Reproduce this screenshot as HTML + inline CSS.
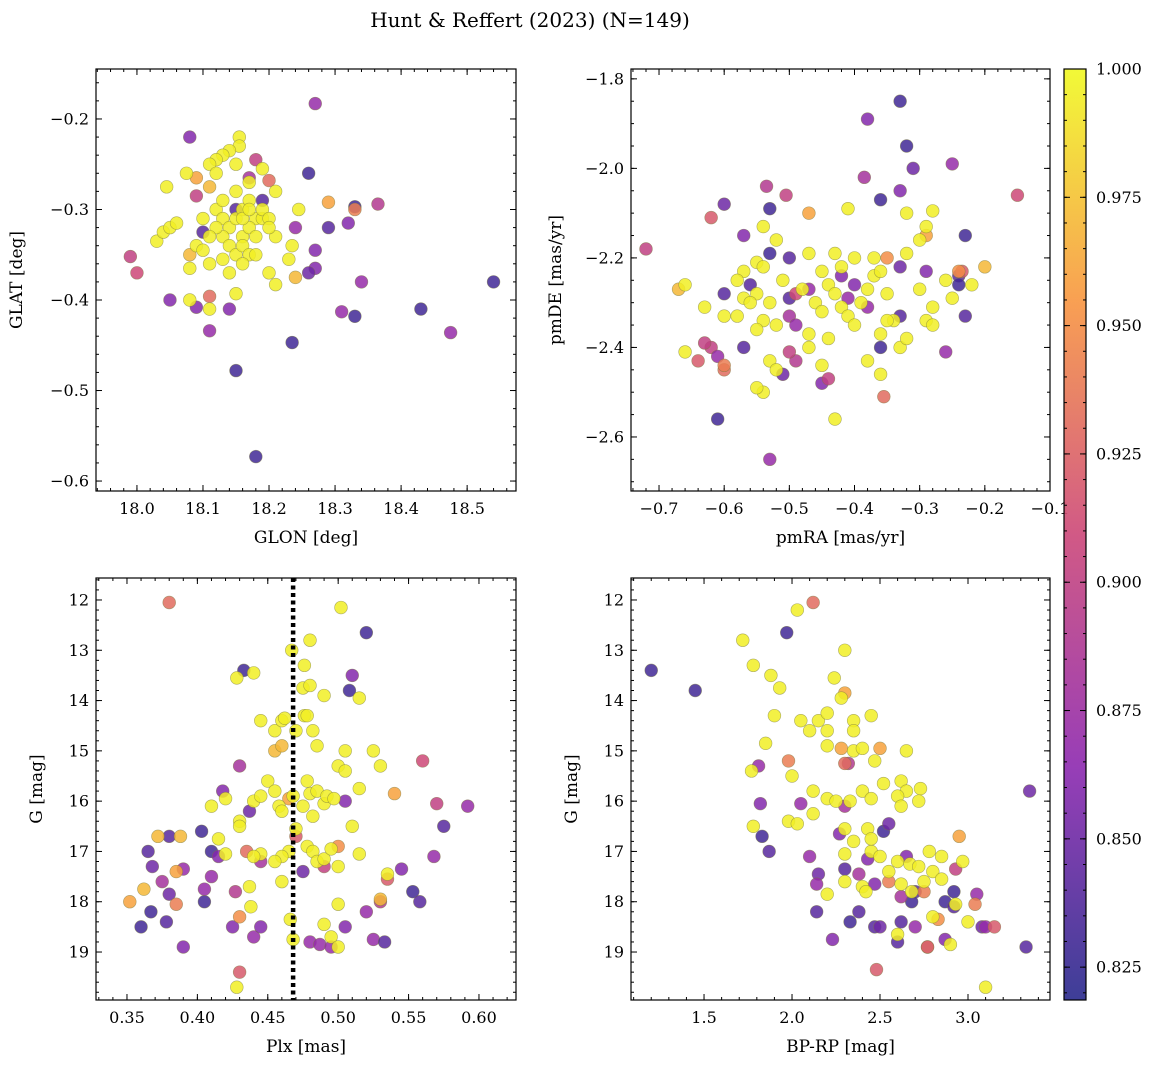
<!DOCTYPE html>
<html><head><meta charset="utf-8">
<style>
body{margin:0;background:#fff;}
svg{display:block;font-family:"DejaVu Serif","Liberation Serif",serif;}
</style></head>
<body>
<svg id="fig" width="1161" height="1068" viewBox="0 0 1161 1068" xmlns="http://www.w3.org/2000/svg">
<text x="530" y="27" text-anchor="middle" font-size="20">Hunt &amp; Reffert (2023) (N=149)</text>
</svg>
<script>
// ---- data ----
const p1Glon=[18.27,18.08,18.26,18.19,18.29,18.32,18.33,18.27,18.27,18.26,18.34,18.31,18.33,18.43,18.475,18.54,18.235,18.15,18.18,18.11,18.09,18.05,17.99,18.0,18.14,18.365,18.24,18.17,18.18,18.2,18.29,18.33,18.11,18.09,18.11,18.08,18.1,18.15,18.24,18.09,
18.03,18.04,18.05,18.06,18.045,18.075,18.08,18.155,18.155,18.14,18.13,18.12,18.11,18.21,18.245,18.235,18.23,18.2,18.21,18.15,18.11,18.08,18.09,18.18,18.16,18.12,18.13,18.14,18.15,18.16,18.17,18.18,18.19,18.13,18.14,18.15,18.16,18.17,18.12,18.13,18.15,18.17,18.19,18.2,18.1,18.11,18.14,18.16,18.18,18.1,18.12,18.15,18.17,18.19,18.11,18.13,18.16,18.21,18.2,18.17];
const p1Glat=[-0.183,-0.22,-0.26,-0.29,-0.32,-0.315,-0.297,-0.345,-0.365,-0.37,-0.38,-0.413,-0.418,-0.41,-0.436,-0.38,-0.447,-0.478,-0.573,-0.434,-0.408,-0.4,-0.352,-0.37,-0.41,-0.294,-0.32,-0.265,-0.245,-0.268,-0.292,-0.3,-0.396,-0.265,-0.275,-0.35,-0.325,-0.3,-0.375,-0.285,
-0.335,-0.325,-0.32,-0.315,-0.275,-0.26,-0.4,-0.22,-0.23,-0.235,-0.24,-0.245,-0.25,-0.28,-0.3,-0.34,-0.355,-0.37,-0.383,-0.393,-0.41,-0.365,-0.34,-0.31,-0.33,-0.3,-0.31,-0.32,-0.31,-0.3,-0.32,-0.33,-0.31,-0.33,-0.34,-0.35,-0.34,-0.35,-0.32,-0.29,-0.28,-0.29,-0.3,-0.31,-0.345,-0.36,-0.37,-0.36,-0.35,-0.31,-0.26,-0.25,-0.27,-0.255,-0.33,-0.355,-0.31,-0.33,-0.32,-0.3];
const p1Prob=[.87,.86,.83,.84,.84,.86,.83,.86,.86,.85,.87,.87,.83,.83,.87,.83,.83,.83,.83,.87,.86,.86,.9,.91,.86,.89,.87,.88,.9,.93,.96,.94,.93,.96,.97,.97,.84,.84,.97,.9];
const p2PmRA=[-0.33,-0.32,-0.38,-0.31,-0.33,-0.25,-0.15,-0.385,-0.36,-0.6,-0.53,-0.535,-0.505,-0.62,-0.72,-0.57,-0.53,-0.5,-0.23,-0.33,-0.29,-0.24,-0.235,-0.24,-0.23,-0.26,-0.36,-0.38,-0.33,-0.56,-0.6,-0.5,-0.47,-0.49,-0.42,-0.4,-0.41,-0.45,-0.44,-0.355,-0.53,-0.61,-0.62,-0.63,-0.61,-0.64,-0.57,-0.6,-0.49,-0.51,-0.5,-0.5,-0.49,-0.35,-0.29,-0.2,-0.24,-0.47,-0.67,-0.6,
-0.54,-0.52,-0.41,-0.32,-0.28,-0.29,-0.3,-0.32,-0.37,-0.4,-0.43,-0.47,-0.55,-0.57,-0.54,-0.58,-0.57,-0.55,-0.53,-0.51,-0.48,-0.46,-0.45,-0.44,-0.43,-0.42,-0.41,-0.4,-0.39,-0.38,-0.37,-0.36,-0.35,-0.34,-0.36,-0.38,-0.3,-0.28,-0.29,-0.28,-0.25,-0.26,-0.22,-0.42,-0.47,-0.45,-0.44,-0.52,-0.54,-0.55,-0.53,-0.52,-0.54,-0.56,-0.58,-0.63,-0.66,-0.66,-0.6,-0.43,-0.36,-0.33,-0.32,-0.35,-0.47,-0.45,-0.55];
const p2PmDE=[-1.85,-1.95,-1.89,-2.0,-2.05,-1.99,-2.06,-2.02,-2.07,-2.08,-2.09,-2.04,-2.06,-2.11,-2.18,-2.15,-2.19,-2.2,-2.15,-2.22,-2.23,-2.24,-2.23,-2.26,-2.33,-2.41,-2.4,-2.31,-2.33,-2.26,-2.28,-2.29,-2.27,-2.28,-2.24,-2.26,-2.29,-2.48,-2.47,-2.51,-2.65,-2.56,-2.4,-2.39,-2.42,-2.43,-2.4,-2.45,-2.43,-2.46,-2.41,-2.33,-2.35,-2.2,-2.15,-2.22,-2.23,-2.1,-2.27,-2.44,
-2.13,-2.16,-2.09,-2.1,-2.095,-2.13,-2.16,-2.19,-2.2,-2.2,-2.19,-2.19,-2.21,-2.23,-2.22,-2.25,-2.29,-2.28,-2.3,-2.25,-2.27,-2.3,-2.32,-2.26,-2.28,-2.31,-2.33,-2.35,-2.3,-2.27,-2.24,-2.23,-2.28,-2.34,-2.37,-2.43,-2.27,-2.31,-2.34,-2.35,-2.29,-2.25,-2.26,-2.22,-2.37,-2.44,-2.38,-2.35,-2.34,-2.36,-2.43,-2.45,-2.5,-2.3,-2.33,-2.31,-2.26,-2.41,-2.33,-2.56,-2.46,-2.4,-2.38,-2.34,-2.4,-2.23,-2.49];
const p2Prob=[.83,.83,.86,.85,.86,.87,.91,.88,.83,.85,.83,.89,.9,.92,.9,.86,.83,.84,.83,.85,.86,.84,.92,.83,.84,.87,.83,.87,.84,.84,.84,.84,.87,.91,.86,.86,.87,.86,.9,.93,.87,.83,.9,.9,.87,.92,.84,.93,.89,.85,.9,.88,.87,.95,.96,.97,.95,.96,.97,.94];
const p3Plx=[0.36,0.367,0.365,0.368,0.38,0.378,0.39,0.39,0.38,0.375,0.403,0.41,0.405,0.41,0.415,0.418,0.405,0.433,0.43,0.425,0.427,0.44,0.445,0.445,0.437,0.475,0.48,0.487,0.49,0.495,0.505,0.505,0.51,0.508,0.52,0.52,0.525,0.53,0.533,0.545,0.553,0.558,0.56,0.57,0.575,0.568,0.592,0.38,0.352,0.362,0.372,0.388,0.385,0.385,0.43,0.43,0.435,0.455,0.46,0.465,0.47,0.54,0.535,0.53,0.5,
0.428,0.44,0.502,0.467,0.476,0.48,0.475,0.48,0.49,0.515,0.445,0.455,0.46,0.462,0.47,0.476,0.478,0.482,0.485,0.505,0.5,0.505,0.525,0.53,0.515,0.41,0.42,0.43,0.43,0.44,0.445,0.45,0.455,0.458,0.46,0.468,0.47,0.475,0.478,0.48,0.482,0.485,0.49,0.492,0.497,0.478,0.482,0.485,0.49,0.495,0.5,0.465,0.46,0.455,0.445,0.44,0.437,0.438,0.46,0.466,0.42,0.415,0.5,0.49,0.495,0.5,0.51,0.535,0.515,0.428,0.468];
const p3G=[18.5,18.2,17.0,17.3,16.7,18.4,18.9,17.35,17.85,17.6,16.6,17.0,18.0,17.5,17.1,15.8,17.75,13.4,15.3,18.5,17.8,18.7,18.5,17.2,16.2,17.4,18.8,18.85,17.3,18.9,18.5,16.0,13.5,13.8,12.65,18.2,18.75,18.0,18.8,17.35,17.8,18.0,15.2,16.05,16.5,17.1,16.1,12.05,18.0,17.75,16.7,16.7,17.4,18.05,18.3,19.4,17.0,15.0,14.9,15.95,16.7,15.85,17.55,17.95,16.9,
13.55,13.45,12.15,13.0,13.3,12.8,13.75,13.7,13.9,13.95,14.4,14.6,14.4,14.35,14.6,14.3,14.3,14.6,14.9,15.0,15.3,15.4,15.0,15.3,15.75,16.1,15.95,16.4,16.5,16.0,15.9,15.6,15.8,16.1,16.2,15.9,16.55,16.1,15.6,15.85,16.3,15.8,16.05,15.9,15.95,16.9,17.0,17.2,17.15,16.95,17.3,17.0,17.1,17.2,17.05,17.1,17.7,18.1,17.6,18.35,17.05,16.75,18.05,18.45,18.7,18.9,16.5,17.45,17.05,19.7,18.75];
const p3Prob=[.83,.83,.84,.85,.84,.84,.86,.87,.85,.88,.83,.83,.83,.87,.86,.86,.87,.83,.88,.86,.89,.87,.86,.88,.85,.85,.87,.87,.9,.87,.86,.86,.86,.83,.83,.87,.87,.89,.84,.86,.83,.84,.91,.9,.84,.87,.87,.93,.96,.97,.97,.97,.96,.94,.95,.92,.93,.97,.97,.96,.92,.96,.92,.97,.95];
const p4Color=[1.2,1.45,1.97,3.35,3.33,1.83,1.87,1.81,1.82,2.1,2.15,2.14,2.14,2.23,2.27,2.3,2.33,2.38,2.43,2.47,2.5,2.52,2.6,2.62,2.65,2.7,2.68,2.7,2.77,2.87,2.92,2.92,3.05,3.08,3.1,2.87,2.62,2.3,2.05,2.55,2.38,2.47,2.32,2.12,2.48,2.5,2.28,2.3,1.98,2.3,2.95,2.75,2.77,2.83,2.93,3.04,3.15,2.55,
2.03,1.72,1.78,1.88,1.93,2.24,2.3,2.28,2.05,2.1,2.15,2.2,2.2,2.35,2.35,2.45,1.85,1.9,2.2,2.35,2.4,2.47,2.52,2.65,2.62,2.65,1.77,2.0,2.12,2.2,2.25,2.33,2.4,2.45,2.6,2.62,2.73,2.72,1.78,1.98,2.03,2.12,2.3,2.35,2.43,2.45,2.5,2.55,2.6,2.67,2.72,2.75,2.8,2.85,2.97,2.3,2.3,2.4,2.2,2.42,2.45,2.62,2.78,2.85,2.9,2.93,3.0,2.6,2.68,3.1,2.8];
const p4G=[13.4,13.8,12.65,15.8,18.9,16.7,17.0,15.3,16.05,17.1,17.45,17.65,18.2,18.75,16.65,17.35,18.4,18.2,17.15,18.5,18.5,16.6,18.8,18.4,17.1,17.8,18.0,18.5,18.9,18.0,17.8,18.1,17.85,18.5,18.5,18.75,17.9,16.1,16.05,16.45,17.45,17.65,15.25,12.05,19.35,14.95,14.95,13.85,15.2,15.25,16.7,17.8,18.9,18.35,17.35,18.05,18.5,17.6,
12.2,12.8,13.3,13.5,13.75,13.55,13.0,13.95,14.4,14.6,14.4,14.6,14.25,14.4,14.6,14.3,14.85,14.3,14.9,15.0,14.95,15.2,15.65,15.0,15.6,15.8,15.4,15.5,15.8,15.95,16.0,16.0,15.8,15.95,15.9,16.1,15.75,16.0,16.5,16.4,16.45,16.25,16.55,16.8,16.55,17.0,17.1,17.4,17.2,17.25,17.3,17.6,17.4,17.1,17.2,17.05,17.6,17.7,17.85,17.8,16.75,17.65,17.0,17.55,18.85,18.05,18.4,18.65,17.8,19.7,18.3];
const p4Prob=[.83,.83,.83,.85,.84,.83,.84,.87,.86,.87,.85,.87,.84,.86,.86,.84,.83,.84,.86,.84,.85,.83,.84,.84,.86,.84,.83,.87,.87,.83,.83,.84,.87,.85,.87,.86,.88,.88,.87,.85,.88,.86,.89,.93,.92,.96,.96,.96,.94,.93,.96,.94,.93,.95,.9,.94,.92,.94];
const cbTicks=[0.825,0.850,0.875,0.900,0.925,0.950,0.975,1.000];

// ---- helpers ----
const NS="http://www.w3.org/2000/svg";
const svg=document.getElementById('fig');
function el(tag,attrs,parent){const e=document.createElementNS(NS,tag);for(const k in attrs)e.setAttribute(k,attrs[k]);(parent||svg).appendChild(e);return e;}
const PMIN=0.8186,PMAX=1.0;
const stops=[[40,40,140],[140,40,175],[204,71,120],[248,149,64],[240,249,33]];
function plasma(t){t=Math.max(0,Math.min(1,t));const s=t*4,i=Math.min(3,Math.floor(s)),f=s-i;const a=stops[i],b=stops[i+1];return `rgb(${Math.round(a[0]+(b[0]-a[0])*f)},${Math.round(a[1]+(b[1]-a[1])*f)},${Math.round(a[2]+(b[2]-a[2])*f)})`;}
function fmt(v,d){return v.toFixed(d).replace('-','\u2212');}

function panel(o){
  const g=el('g',{});
  
  
  const sx=v=>o.x0+(v-o.xmin)/(o.xmax-o.xmin)*(o.x1-o.x0);
  const sy=v=>o.inv? o.y0+(v-o.ymin)/(o.ymax-o.ymin)*(o.y1-o.y0) : o.y1-(v-o.ymin)/(o.ymax-o.ymin)*(o.y1-o.y0);
  const clip='c'+o.name;
  const cp=el('clipPath',{id:clip},g);el('rect',{x:o.x0,y:o.y0,width:o.x1-o.x0,height:o.y1-o.y0},cp);
  const pts=el('g',{'clip-path':`url(#${clip})`},g);
  for(let i=0;i<o.xs.length;i++){
    const p=i<o.ps.length?o.ps[i]:0.995;
    const c=el('circle',{cx:sx(o.xs[i]),cy:sy(o.ys[i]),r:6.4,fill:plasma((p-PMIN)/(PMAX-PMIN)),'fill-opacity':0.85,stroke:'#7a7a40','stroke-opacity':0.6,'stroke-width':0.6},pts);
    
    
  }
  if(o.vline!==undefined){
    const l=el('line',{x1:sx(o.vline),x2:sx(o.vline),y1:o.y0,y2:o.y1,stroke:'#000','stroke-width':4.5,'stroke-dasharray':'4,3.5'},g);
    
    
  }
  const fr=el('rect',{x:o.x0,y:o.y0,width:o.x1-o.x0,height:o.y1-o.y0,fill:'none',stroke:'#000','stroke-width':1.2},g);
  
  
  for(let v=Math.ceil(o.xmin/o.xmn-1e-6)*o.xmn;v<=o.xmax+1e-9;v+=o.xmn){const X=sx(v);el('line',{x1:X,x2:X,y1:o.y1,y2:o.y1-3,stroke:'#000'},g);el('line',{x1:X,x2:X,y1:o.y0,y2:o.y0+3,stroke:'#000'},g);}
  for(let v=Math.ceil(o.ymin/o.ymn-1e-6)*o.ymn;v<=o.ymax+1e-9;v+=o.ymn){const Y=sy(v);el('line',{x1:o.x0,x2:o.x0+3,y1:Y,y2:Y,stroke:'#000'},g);el('line',{x1:o.x1,x2:o.x1-3,y1:Y,y2:Y,stroke:'#000'},g);}
  o.xt.forEach(v=>{const X=sx(v);el('line',{x1:X,x2:X,y1:o.y1,y2:o.y1-6,stroke:'#000'},g);el('line',{x1:X,x2:X,y1:o.y0,y2:o.y0+6,stroke:'#000'},g);
    const t=el('text',{x:X,y:o.y1+23,'text-anchor':'middle','font-size':16},g);t.textContent=fmt(v,o.xd);
    });
  o.yt.forEach(v=>{const Y=sy(v);el('line',{x1:o.x0,x2:o.x0+6,y1:Y,y2:Y,stroke:'#000'},g);el('line',{x1:o.x1,x2:o.x1-6,y1:Y,y2:Y,stroke:'#000'},g);
    const t=el('text',{x:o.x0-7,y:Y+5.5,'text-anchor':'end','font-size':16},g);t.textContent=fmt(v,o.yd);
    });
  const xl=el('text',{x:(o.x0+o.x1)/2,y:o.y1+52,'text-anchor':'middle','font-size':17},g);xl.textContent=o.xlab;
  
  const yx=o.x0-o.ylo, yy=(o.y0+o.y1)/2;
  const yl=el('text',{x:yx,y:yy,'text-anchor':'middle','font-size':17,transform:`rotate(-90 ${yx} ${yy})`},g);yl.textContent=o.ylab;
  
}
const r=(a,b,s)=>{const o=[];for(let v=a;v<=b+1e-9;v+=s)o.push(+v.toFixed(4));return o;};
panel({name:'glon-glat-panel',x0:96,x1:516,y0:69,y1:491,xmin:17.938,xmax:18.574,ymin:-0.611,ymax:-0.1448,xs:p1Glon,ys:p1Glat,ps:p1Prob,
  xt:r(18.0,18.5,0.1),yt:r(-0.6,-0.2,0.1),xmn:0.02,ymn:0.02,xd:1,yd:1,xlab:'GLON [deg]',ylab:'GLAT [deg]',ylo:74});
panel({name:'proper-motion-panel',x0:631,x1:1050,y0:69,y1:491,xmin:-0.743,xmax:-0.1,ymin:-2.7207,ymax:-1.778,xs:p2PmRA,ys:p2PmDE,ps:p2Prob,
  xt:r(-0.7,-0.1,0.1),yt:r(-2.6,-1.8,0.2),xmn:0.02,ymn:0.05,xd:1,yd:1,xlab:'pmRA [mas/yr]',ylab:'pmDE [mas/yr]',ylo:70});
panel({name:'parallax-magnitude-panel',x0:96,x1:516,y0:578,y1:1000,xmin:0.328,xmax:0.6263,ymin:11.563,ymax:19.954,inv:true,xs:p3Plx,ys:p3G,ps:p3Prob,vline:0.468,
  xt:r(0.35,0.6,0.05),yt:r(12,19,1),xmn:0.01,ymn:0.2,xd:2,yd:0,xlab:'Plx [mas]',ylab:'G [mag]',ylo:54});
panel({name:'cmd-panel',x0:631,x1:1050,y0:578,y1:1000,xmin:1.085,xmax:3.466,ymin:11.563,ymax:19.954,inv:true,xs:p4Color,ys:p4G,ps:p4Prob,
  xt:r(1.5,3.0,0.5),yt:r(12,19,1),xmn:0.1,ymn:0.2,xd:1,yd:0,xlab:'BP-RP [mag]',ylab:'G [mag]',ylo:54});

// colorbar
const cb=el('g',{});


const lg=el('linearGradient',{id:'cbg',x1:0,y1:1,x2:0,y2:0},cb);
for(let i=0;i<=20;i++){el('stop',{offset:i/20,'stop-color':plasma(i/20),'stop-opacity':0.9},lg);}
const cx0=1064,cx1=1086,cy0=69,cy1=1000;
el('rect',{x:cx0,y:cy0,width:cx1-cx0,height:cy1-cy0,fill:'url(#cbg)',stroke:'#000','stroke-width':1.2},cb);
const cy=v=>cy1-(v-PMIN)/(PMAX-PMIN)*(cy1-cy0);
for(let v=0.82;v<=1.0001;v+=0.005){if(v<PMIN)continue;const Y=cy(v);el('line',{x1:cx1,x2:cx1-3,y1:Y,y2:Y,stroke:'#000'},cb);el('line',{x1:cx0,x2:cx0+3,y1:Y,y2:Y,stroke:'#000'},cb);}
cbTicks.forEach(v=>{const Y=cy(v);el('line',{x1:cx1,x2:cx1-6,y1:Y,y2:Y,stroke:'#000'},cb);el('line',{x1:cx0,x2:cx0+6,y1:Y,y2:Y,stroke:'#000'},cb);
  const t=el('text',{x:cx1+10,y:Y+5.5,'font-size':16},cb);t.textContent=v.toFixed(3);
  });
</script>
</body></html>
